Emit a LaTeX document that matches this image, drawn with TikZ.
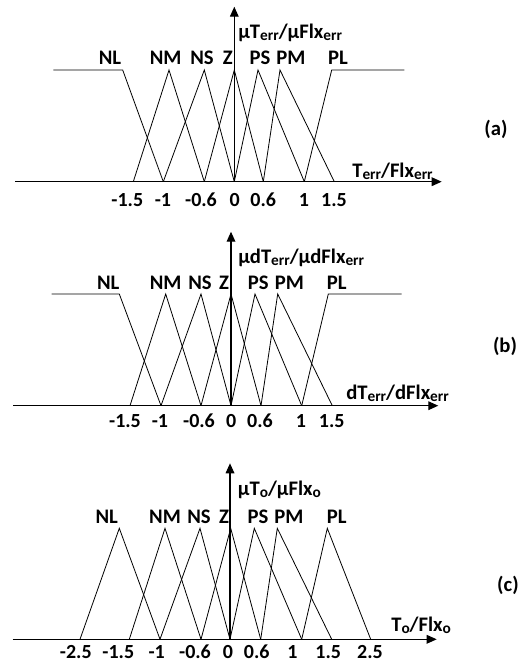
\documentclass[tikz,border=0pt]{standalone}
\usepackage{fontspec}
\setmainfont{Carlito}
\usetikzlibrary{arrows.meta}
\newcommand{\subtxt}[1]{\raisebox{-1.5pt}{\fontsize{11.5}{12}\selectfont #1}}

\begin{document}
\begin{tikzpicture}[x=0.75pt,y=0.75pt,yscale=-1,xscale=1,
  mf/.style={line width=0.6pt},
  axis/.style={line width=0.9pt,-{Triangle[length=7.5pt,width=6.5pt]}},
  lbl/.style={inner sep=0.75pt,font=\fontsize{15.5}{18}\selectfont\bfseries},
  tck/.style={inner sep=0.75pt,font=\fontsize{15}{18}\selectfont\bfseries}]
\useasboundingbox (0,0) rectangle (519,664);
% (a)
\draw [axis] (15,181.7) -- (441.7,181.7) ;
\draw [axis] (234.3,181.7) -- (234.3,6.7) ;
\draw [mf] (53.3,70) -- (122.7,70) -- (163.3,181.7) ;
\draw [mf] (133.3,181.7) -- (169,70) -- (204.3,181.7) ;
\draw [mf] (163.3,181.7) -- (204.3,70) -- (234.3,181.7) ;
\draw [mf] (204.3,181.7) -- (234.3,70) -- (263.3,181.7) ;
\draw [mf] (234.3,181.7) -- (258,70) -- (304.3,181.7) ;
\draw [mf] (263.3,181.7) -- (280,70) -- (334.3,181.7) ;
\draw [mf] (304.3,181.7) -- (331.7,70) -- (404.3,70) ;
\draw (110,58) node [lbl] (aNL) {NL};
\draw (165.7,58) node [lbl] (aNM) {NM};
\draw (202,58) node [lbl] (aNS) {NS};
\draw (227.7,58) node [lbl] (aZ) {Z};
\draw (260,58) node [lbl] (aPS) {PS};
\draw (291,58) node [lbl] (aPM) {PM};
\draw (338,58) node [lbl] (aPL) {PL};
\draw (237,33.3) node [lbl,anchor=west] (aYlbl) {μT\subtxt{err}/μFlx\subtxt{err}};
\draw (351,171.7) node [lbl,anchor=west] (aXlbl) {T\subtxt{err}/Flx\subtxt{err}};
\draw (127.3,200) node [tck] (at1) {-1.5};
\draw (163,200) node [tck] (at2) {-1};
\draw (201,200) node [tck] (at3) {-0.6};
\draw (234.7,200) node [tck] (at4) {0};
\draw (263.3,200) node [tck] (at5) {0.6};
\draw (304,200) node [tck] (at6) {1};
\draw (334,200) node [tck] (at7) {1.5};
\draw (496,129) node [lbl] (atag) {(a)};
% (b)
\draw [axis] (13.3,405.7) -- (438.3,405.7) ;
\draw [axis] (231,405.7) -- (231,231.7) ;
\draw [mf] (51.7,294) -- (119.3,294) -- (161,405.7) ;
\draw [mf] (130,405.7) -- (165.7,294) -- (201,405.7) ;
\draw [mf] (161,405.7) -- (201,294) -- (231,405.7) ;
\draw [mf] (201,405.7) -- (231,294) -- (261,405.7) ;
\draw [mf] (231,405.7) -- (255,294) -- (301.7,405.7) ;
\draw [mf] (261,405.7) -- (277.7,294) -- (332.3,405.7) ;
\draw [mf] (301.7,405.7) -- (328.3,294) -- (401.7,294) ;
\draw (108.3,282.5) node [lbl] (bNL) {NL};
\draw (165.7,282.5) node [lbl] (bNM) {NM};
\draw (200,282.5) node [lbl] (bNS) {NS};
\draw (224,282.5) node [lbl] (bZ) {Z};
\draw (258.3,282.5) node [lbl] (bPS) {PS};
\draw (289.3,282.5) node [lbl] (bPM) {PM};
\draw (336.7,282.5) node [lbl] (bPL) {PL};
\draw (237,258) node [lbl,anchor=west] (bYlbl) {μdT\subtxt{err}/μdFlx\subtxt{err}};
\draw (345,393.3) node [lbl,anchor=west] (bXlbl) {dT\subtxt{err}/dFlx\subtxt{err}};
\draw (125,420.7) node [tck] (bt1) {-1.5};
\draw (160,420.7) node [tck] (bt2) {-1};
\draw (199,420.7) node [tck] (bt3) {-0.6};
\draw (231.3,420.7) node [tck] (bt4) {0};
\draw (260,420.7) node [tck] (bt5) {0.6};
\draw (301,420.7) node [tck] (bt6) {1};
\draw (331.7,420.7) node [tck] (bt7) {1.5};
\draw (505,346.7) node [lbl] (btag) {(b)};
% (c)
\draw [axis] (12.7,639.3) -- (436.7,639.3) ;
\draw [axis] (230,639.3) -- (230,463.3) ;
\draw [mf] (80,639.3) -- (119.3,528.3) -- (160,639.3) ;
\draw [mf] (129.3,639.3) -- (165,528.3) -- (201,639.3) ;
\draw [mf] (160,639.3) -- (200,528.3) -- (230,639.3) ;
\draw [mf] (201,639.3) -- (230.7,528.3) -- (260.7,639.3) ;
\draw [mf] (230,639.3) -- (254.3,528.3) -- (301.7,639.3) ;
\draw [mf] (260.7,639.3) -- (277.3,528.3) -- (331.7,639.3) ;
\draw [mf] (301.7,639.3) -- (327.3,528.3) -- (370.7,639.3) ;
\draw (106.7,516.7) node [lbl] (cNL) {NL};
\draw (165,516.7) node [lbl] (cNM) {NM};
\draw (199,516.7) node [lbl] (cNS) {NS};
\draw (224,516.7) node [lbl] (cZ) {Z};
\draw (258,516.7) node [lbl] (cPS) {PS};
\draw (289,516.7) node [lbl] (cPM) {PM};
\draw (336.7,516.7) node [lbl] (cPL) {PL};
\draw (236.7,490) node [lbl,anchor=west] (cYlbl) {μT\subtxt{o}/μFlx\subtxt{o}};
\draw (390,625) node [lbl,anchor=west] (cXlbl) {T\subtxt{o}/Flx\subtxt{o}};
\draw (75.8,651.7) node [tck] (ct1) {-2.5};
\draw (118.3,651.7) node [tck] (ct2) {-1.5};
\draw (156.7,651.7) node [tck] (ct3) {-1};
\draw (195,651.7) node [tck] (ct4) {-0.6};
\draw (228,651.7) node [tck] (ct5) {0};
\draw (256.7,651.7) node [tck] (ct6) {0.6};
\draw (292.5,651.7) node [tck] (ct7) {1};
\draw (328.3,651.7) node [tck] (ct8) {1.5};
\draw (370,651.7) node [tck] (ct9) {2.5};
\draw (508,585) node [lbl] (ctag) {(c)};
\end{tikzpicture}
\end{document}
